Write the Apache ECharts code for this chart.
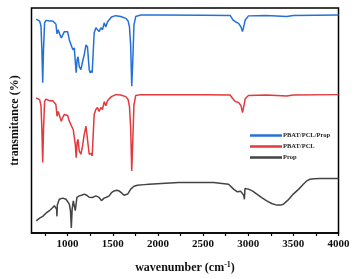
<!DOCTYPE html>
<html><head><meta charset="utf-8">
<script src="https://cdn.jsdelivr.net/npm/echarts@6/dist/echarts.min.js"></script>
<style>html,body{margin:0;padding:0;background:#fff}#c{width:355px;height:279px}</style>
</head><body><div id="c"></div>
<script>
// PBAT/PCL/Prop
const wnA = [652,670,690,705,715,724,733,745,760,780,800,817,835,853,870,883,895,908,920,930,945,964,982,1000,1019,1037,1050,1062,1074,1085,1095,1105,1115,1129,1147,1165,1184,1203,1220,1239,1250,1262,1272,1282,1294,1313,1331,1349,1368,1386,1405,1423,1441,1460,1485,1533,1588,1644,1670,1685,1698,1710,1722,1735,1754,1810,2000,2500,2800,2830,2857,2893,2920,2937,2955,2967,3003,3200,3425,3500,4000];
const tA = [95.1,94.9,94.2,92.0,81.4,66.8,81.4,93.4,94.5,94.7,94.2,93.9,94.2,93.5,92.9,88.5,90.3,89.5,87.6,86.7,87.3,89.5,88.9,89.5,85.8,85.1,82.3,81.4,82.3,76.1,71.2,77.0,78.3,73.9,72.6,76.1,79.2,83.6,82.7,72.6,71.2,72.1,71.2,79.2,88.9,91.2,91.6,89.5,91.2,90.3,93.4,91.6,93.8,93.4,96.0,96.6,96.2,95.4,94.2,91.6,83.6,65.2,77.0,92.5,96.2,96.9,96.9,96.8,96.7,94.7,93.9,93.2,91.6,89.5,92.5,94.7,96.5,96.7,96.2,96.7,96.9];
// PBAT/PCL
const wnB = wnA;
const tB = [60.0,59.7,59.3,56.6,46.0,31.3,46.0,58.4,59.5,59.3,58.8,58.5,58.8,58.1,57.1,51.9,54.0,53.4,50.9,49.7,51.3,52.7,51.9,52.2,49.7,49.0,46.9,46.0,46.0,39.4,33.5,40.3,41.6,36.4,35.0,38.6,43.8,47.5,46.8,35.0,34.2,35.4,34.2,42.5,52.7,54.9,55.8,54.0,55.8,54.9,58.4,56.6,58.8,58.4,60.6,61.5,61.3,60.6,59.3,56.2,46.9,27.6,41.6,57.1,61.1,61.5,61.5,61.4,61.3,59.7,58.4,58.0,56.6,53.5,57.1,59.7,61.1,61.3,60.9,61.3,61.5];
// Prop
const wnC = [652,690,724,760,798,830,853,872,878,882,886,908,925,945,982,1000,1019,1032,1041,1050,1063,1075,1085,1095,1103,1129,1155,1184,1210,1239,1258,1276,1295,1313,1330,1349,1375,1404,1430,1460,1490,1515,1545,1570,1600,1625,1644,1665,1699,1735,1772,1850,1901,2085,2232,2617,2783,2838,2880,2915,2930,2950,2958,2964,2975,3003,3050,3095,3150,3205,3260,3315,3360,3389,3440,3499,3560,3610,3650,3683,3730,3794,4000];
const tC = [5.4,6.6,7.4,8.8,9.9,11.1,12.1,12.8,10.6,7.4,12.4,15.0,15.5,15.5,15.0,14.6,12.8,9.7,2.2,10.6,14.3,13.7,9.9,13.3,15.8,16.5,16.8,17.3,16.8,15.9,16.4,15.8,16.4,16.5,15.9,15.8,14.4,15.5,15.9,16.5,18.1,18.7,19.0,18.7,17.7,16.8,16.5,17.3,19.5,20.8,21.2,21.5,21.7,22.1,22.4,22.4,21.7,19.5,18.3,18.6,18.7,16.8,15.0,19.8,19.9,19.5,18.6,17.3,15.7,14.3,13.1,12.4,12.4,12.8,14.6,17.3,19.5,21.7,23.2,23.9,24.1,24.2,24.2];
const names = ['PBAT/PCL/Prop','PBAT/PCL','Prop'];
const colors = ['#2470d8','#e2393c','#444444'];
const tickVals = [750,1000,1250,1500,1750,2000,2250,2500,2750,3000,3250,3500,3750,4000];
const labelVals = [1000,1500,2000,2500,3000,3500,4000];

const zip = (w,t) => w.map((x,i)=>[x,t[i]]);
const font = '"Liberation Serif","DejaVu Serif",serif';
const chart = echarts.init(document.getElementById('c'));
chart.setOption({
  animation:false,
  grid:{left:31.5,right:16.5,top:8,bottom:45,show:true,borderColor:'#000',borderWidth:1.5,backgroundColor:'transparent'},
  legend:{orient:'vertical',left:250,top:132,padding:0,itemWidth:32,itemHeight:2.5,itemGap:4,icon:'rect',
    data:names,textStyle:{fontFamily:font,fontWeight:'bold',fontSize:6.5,color:'#222',padding:[0,0,0,-4]}},
  xAxis:{type:'value',min:600,max:4000,
    name:'wavenumber (cm{sup|-1})',nameLocation:'middle',nameGap:28,
    nameTextStyle:{fontFamily:font,fontWeight:'bold',fontSize:12,color:'#111',rich:{sup:{fontFamily:font,fontWeight:'bold',fontSize:8,verticalAlign:'top',padding:[0,0,6,0]}}},
    axisLine:{lineStyle:{color:'#000',width:1.5}},
    axisTick:{customValues:tickVals,length:3,lineStyle:{color:'#000',width:1.2}},
    axisLabel:{customValues:labelVals,formatter:v=>String(v),margin:6,fontFamily:font,fontWeight:'bold',fontSize:11,color:'#111'},
    splitLine:{show:false}},
  yAxis:{type:'value',min:0,max:100,name:'transmitance (%)',nameLocation:'middle',nameGap:11,
    nameTextStyle:{fontFamily:font,fontWeight:'bold',fontSize:12,color:'#111'},
    axisLine:{show:false},axisTick:{show:false},axisLabel:{show:false},splitLine:{show:false}},
  series:[
    {name:names[0],type:'line',data:zip(wnA,tA),showSymbol:false,lineStyle:{width:1.5,color:colors[0]},itemStyle:{color:colors[0]}},
    {name:names[1],type:'line',data:zip(wnB,tB),showSymbol:false,lineStyle:{width:1.5,color:colors[1]},itemStyle:{color:colors[1]}},
    {name:names[2],type:'line',data:zip(wnC,tC),showSymbol:false,lineStyle:{width:1.5,color:colors[2]},itemStyle:{color:colors[2]}}
  ]
});
</script></body></html>
